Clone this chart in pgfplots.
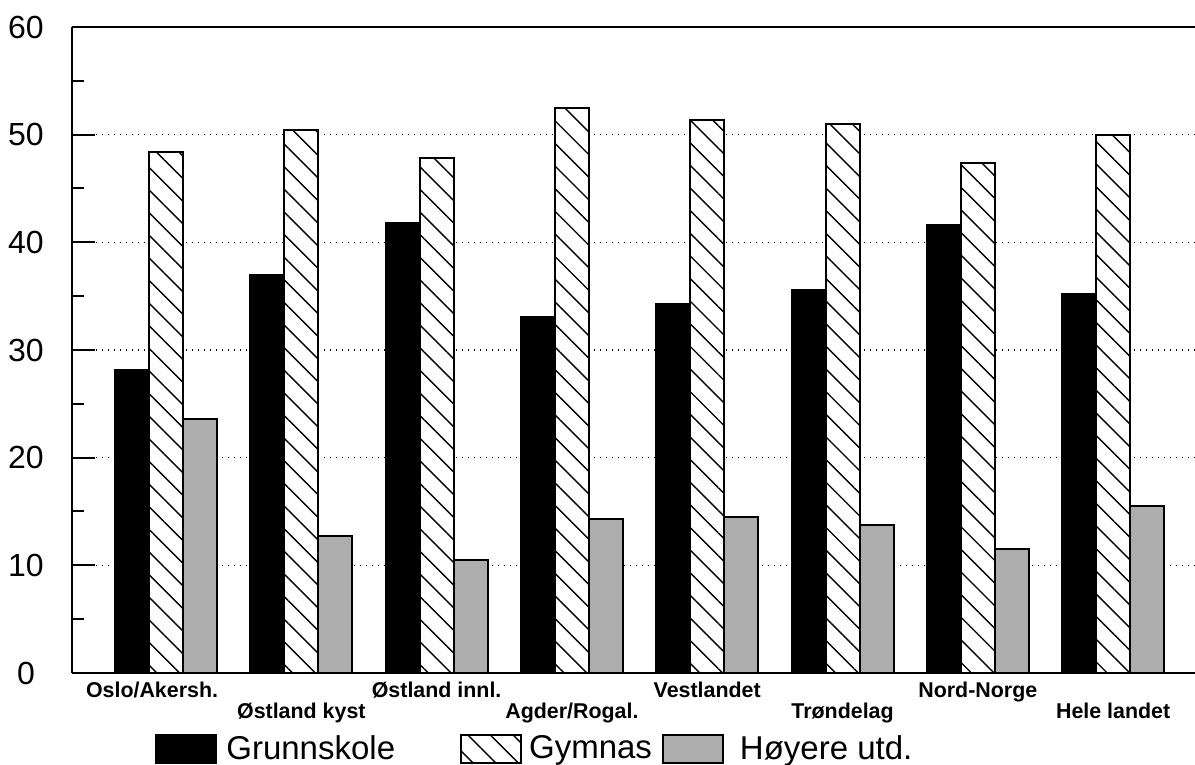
\documentclass[border=0pt]{standalone}
\usepackage{fontspec}
\setmainfont{Liberation Sans}
\usepackage{pgfplots}
\pgfplotsset{compat=1.18}
\usetikzlibrary{patterns.meta}

\begin{document}
\begin{tikzpicture}
  \begin{axis}[
    scale only axis,
    width=561.5pt,
    height=323pt,
    ybar=0pt,
    bar width=17pt,
    xmin=-0.695, xmax=7.605,
    ymin=0, ymax=60,
    ytick={0,10,...,60},
    minor y tick num=1,
    axis y line*=left,
    axis x line*=box,
    axis line style={line width=1pt},
    tick align=inside,
    xtick pos=left,
    tick style={line width=1pt, black},
    ytick style={/pgfplots/major tick length=11.5pt, /pgfplots/minor tick length=6pt},
    xtick style={/pgfplots/major tick length=5pt},
    ymajorgrids,
    grid style={black, line width=0.6pt, dash pattern=on 0.7pt off 2.3pt},
    /pgf/number format/assume math mode=true,
    yticklabel style={font=\fontsize{16}{16}\selectfont, anchor=center, xshift=-23pt},
    xtick={0,2,4,6},
    xticklabels={{Oslo/Akersh.\hspace*{14pt}}, Østland innl., Vestlandet, Nord-Norge},
    extra x ticks={1,3,5,7},
    extra x tick labels={Østland kyst, Agder/Rogal., Trøndelag, Hele landet},
    extra x tick style={
      xtick style={/pgfplots/major tick length=5pt},
      xticklabel style={yshift=-10.5pt}},
    xticklabel style={font=\bfseries\fontsize{10.7}{11}\selectfont, anchor=base, yshift=-12.5pt},
    legend columns=3,
    legend style={
      at={(axis description cs:0.0739,-0.1176)}, anchor=west,
      draw=none, fill=none, inner sep=0pt,
      font=\fontsize{16.5}{17}\selectfont,
      /tikz/column 1/.style={column sep=2.5pt},
      /tikz/column 2/.style={column sep=30.5pt},
      /tikz/column 3/.style={column sep=1.5pt},
      /tikz/column 4/.style={column sep=3pt},
      /tikz/column 5/.style={column sep=6pt},
    },
    legend image code/.code={\draw[#1] (0pt,-7pt) rectangle (30pt,7pt);},
  ]
    \addplot[fill=black, draw=black, line width=1pt] coordinates {
      (0,28.1) (1,37.0) (2,41.8) (3,33.1) (4,34.3) (5,35.6) (6,41.6) (7,35.2)
    };
    \addplot[fill=white, draw=black, line width=1pt,
      postaction={pattern={Lines[angle=-45,distance=8pt,line width=0.7pt]}, pattern color=black}]
      coordinates {
      (0,48.4) (1,50.4) (2,47.8) (3,52.5) (4,51.4) (5,51.0) (6,47.4) (7,50.0)
    };
    \addplot[fill=black!32, draw=black, line width=1pt] coordinates {
      (0,23.6) (1,12.7) (2,10.5) (3,14.3) (4,14.5) (5,13.7) (6,11.5) (7,15.5)
    };
    \legend{Grunnskole, Gymnas, Høyere utd.}
  \end{axis}
  \pgfresetboundingbox
  \useasboundingbox (-36pt,-46pt) rectangle (561.5pt,336.5pt);
\end{tikzpicture}
\end{document}
